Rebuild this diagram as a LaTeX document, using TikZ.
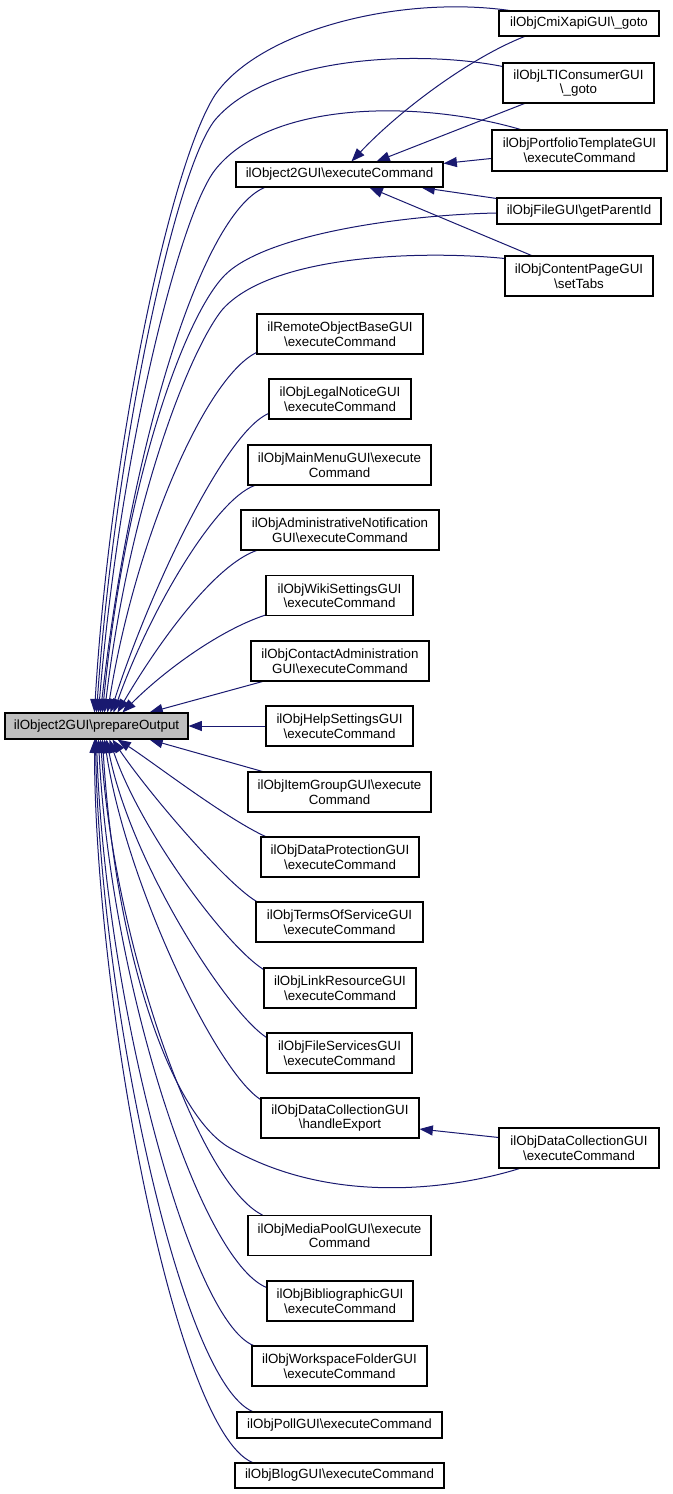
\documentclass[tikz,border=0pt]{standalone}
\usepackage{fontspec}
\setmainfont{Liberation Sans}
\usetikzlibrary{arrows.meta,calc}
\pgfdeclarelayer{background}
\pgfsetlayers{background,main}
\definecolor{edgeblue}{HTML}{191970}
\definecolor{nodegray}{HTML}{BFBFBF}
\begin{document}
\begin{tikzpicture}[x=0.75bp,y=-0.75bp,
  every node/.style={font=\fontsize{10bp}{10.9bp}\selectfont},
  box/.style 2 args={draw=black, line width=0.8bp, fill=white, inner sep=0pt, align=center, minimum width=#1*0.75bp, minimum height=#2*0.75bp},
  mainbox/.style={fill=nodegray},
  edge/.style={draw=edgeblue, line width=0.75bp, -{Triangle[length=10bp,width=7.5bp]}},
]
\useasboundingbox (0,0) rectangle (672,1494);
% nodes
\node[box={183}{26},mainbox] (P) at (96.5,726) {ilObject2GUI\textbackslash prepareOutput};
\node[box={207}{25}] (E) at (339.5,174.5) {ilObject2GUI\textbackslash executeCommand};
\node[box={160}{25}] (Cmi) at (579,23.5) {ilObjCmiXapiGUI\textbackslash\_goto};
\node[box={151}{40}] (LTI) at (578.5,83) {ilObjLTIConsumerGUI\\\textbackslash\_goto};
\node[box={175}{41}] (Port) at (579.5,150.5) {ilObjPortfolioTemplateGUI\\\textbackslash executeCommand};
\node[box={164}{26}] (FileGUI) at (579,211) {ilObjFileGUI\textbackslash getParentId};
\node[box={148}{40}] (Content) at (579,276) {ilObjContentPageGUI\\\textbackslash setTabs};
\node[box={166}{40}] (Remote) at (340,334) {ilRemoteObjectBaseGUI\\\textbackslash executeCommand};
\node[box={142}{40}] (Legal) at (340,399) {ilObjLegalNoticeGUI\\\textbackslash executeCommand};
\node[box={183}{40}] (MainMenu) at (339.5,465) {ilObjMainMenuGUI\textbackslash execute\\Command};
\node[box={198}{40}] (Admin) at (340,530) {ilObjAdministrativeNotification\\GUI\textbackslash executeCommand};
\node[box={147}{40}] (Wiki) at (339.5,595.5) {ilObjWikiSettingsGUI\\\textbackslash executeCommand};
\node[box={178}{40}] (Contact) at (340,661) {ilObjContactAdministration\\GUI\textbackslash executeCommand};
\node[box={147}{40}] (Help) at (339.5,726) {ilObjHelpSettingsGUI\\\textbackslash executeCommand};
\node[box={183}{40}] (ItemGroup) at (339.5,792) {ilObjItemGroupGUI\textbackslash execute\\Command};
\node[box={158}{40}] (DataProt) at (340,857) {ilObjDataProtectionGUI\\\textbackslash executeCommand};
\node[box={167}{40}] (Terms) at (339.5,922) {ilObjTermsOfServiceGUI\\\textbackslash executeCommand};
\node[box={152}{40}] (Link) at (340,988) {ilObjLinkResourceGUI\\\textbackslash executeCommand};
\node[box={145}{40}] (FileServices) at (339.5,1053) {ilObjFileServicesGUI\\\textbackslash executeCommand};
\node[box={158}{40}] (HExp) at (340,1118) {ilObjDataCollectionGUI\\\textbackslash handleExport};
\node[box={160}{40}] (DCexec) at (579,1148) {ilObjDataCollectionGUI\\\textbackslash executeCommand};
\node[box={183}{40}] (MediaPool) at (339.5,1235.5) {ilObjMediaPoolGUI\textbackslash execute\\Command};
\node[box={146}{40}] (Biblio) at (340,1301) {ilObjBibliographicGUI\\\textbackslash executeCommand};
\node[box={175}{40}] (Workspace) at (339.5,1366) {ilObjWorkspaceFolderGUI\\\textbackslash executeCommand};
\node[box={205}{26}] (Poll) at (339.5,1425) {ilObjPollGUI\textbackslash executeCommand};
\node[box={209}{25}] (Blog) at (339.5,1475.5) {ilObjBlogGUI\textbackslash executeCommand};
% edges
\begin{pgfonlayer}{background}
\fill[white] (0,0) rectangle (672,1494);
% to P, upper side
\draw[edge] ($(Cmi.north west)+(11,0)$) .. controls (400,-5) and (260,30) .. (215,95) .. controls (170,165) and (110,450) .. ($(P.north west)+(90,0)$);
\draw[edge] ($(LTI.north west)+(0,4)$) .. controls (420,50) and (270,55) .. (215,120) .. controls (175,170) and (115,450) .. ($(P.north west)+(92,0)$);
\draw[edge] ($(Port.north west)+(29,0)$) .. controls (420,100) and (270,100) .. (215,170) .. controls (180,215) and (120,450) .. ($(P.north west)+(94,0)$);
\draw[edge] ($(E.south west)+(29,0)$) .. controls (200,215) and (130,450) .. ($(P.north west)+(96,0)$);
\draw[edge] ($(FileGUI.west)+(0,2)$) .. controls (400,215) and (265,235) .. (225,275) .. controls (185,315) and (125,480) .. ($(P.north west)+(98,0)$);
\draw[edge] ($(Content.north west)+(0,3)$) .. controls (420,250) and (270,255) .. (222,310) .. controls (190,350) and (130,500) .. ($(P.north west)+(100,0)$);
\draw[edge] ($(Remote.south west)+(0,-2)$) .. controls (205,378) and (135,540) .. ($(P.north west)+(103,0)$);
\draw[edge] ($(Legal.south west)+(0,-6)$) .. controls (225,432) and (150,590) .. ($(P.north west)+(106,0)$);
\draw[edge] ($(MainMenu.south west)+(7,0)$) .. controls (215,500) and (150,610) .. ($(P.north west)+(109,0)$);
\draw[edge] ($(Admin.south west)+(16,0)$) .. controls (215,565) and (160,640) .. ($(P.north west)+(113,0)$);
\draw[edge] ($(Wiki.south west)+(0,-1)$) .. controls (220,630) and (165,670) .. ($(P.north west)+(118,0)$);
\draw[edge] ($(Contact.south west)+(12,0)$) -- ($(P.north west)+(145,0)$);
\draw[edge] (Help.west) -- (P.east);
% to P, lower side
\draw[edge] ($(ItemGroup.north west)+(15,0)$) -- ($(P.south west)+(145,0)$);
\draw[edge] ($(DataProt.north west)+(5,0)$) .. controls (225,818) and (150,760) .. ($(P.south west)+(113,0)$);
\draw[edge] ($(Terms.north west)+(3,1)$) .. controls (230,888) and (150,795) .. ($(P.south west)+(108,0)$);
\draw[edge] ($(Link.north west)+(0,2)$) .. controls (225,945) and (140,830) .. ($(P.south west)+(105,0)$);
\draw[edge] ($(FileServices.north west)+(0,5)$) .. controls (225,1010) and (130,860) .. ($(P.south west)+(102,0)$);
\draw[edge] ($(HExp.north west)+(0,2)$) .. controls (215,1070) and (125,880) .. ($(P.south west)+(100,0)$);
\draw[edge] ($(DCexec.south west)+(21,0)$) .. controls (450,1190) and (330,1205) .. (230,1148) .. controls (170,1114) and (115,950) .. ($(P.south west)+(98,0)$);
\draw[edge] ($(MediaPool.north west)+(15,0)$) .. controls (200,1185) and (115,950) .. ($(P.south west)+(96,0)$);
\draw[edge] ($(Biblio.north west)+(0,7)$) .. controls (200,1260) and (110,980) .. ($(P.south west)+(94,0)$);
\draw[edge] ($(Workspace.north west)+(2,0)$) .. controls (190,1320) and (105,1000) .. ($(P.south west)+(92,0)$);
\draw[edge] ($(Poll.north west)+(16,0)$) .. controls (180,1380) and (100,1000) .. ($(P.south west)+(91,0)$);
\draw[edge] ($(Blog.north west)+(18,0)$) .. controls (175,1430) and (95,1000) .. ($(P.south west)+(90,0)$);
% to E
\draw[edge] ($(Cmi.south west)+(26,0)$) .. controls (470,58) and (400,110) .. ($(E.north west)+(116,0)$);
\draw[edge] ($(LTI.south west)+(22,0)$) -- ($(E.north west)+(141,0)$);
\draw[edge] ($(Port.north west)+(0,29)$) -- ($(E.north east)+(0,2)$);
\draw[edge] ($(FileGUI.north west)+(0,1)$) -- ($(E.south west)+(186,0)$);
\draw[edge] ($(Content.north west)+(27,0)$) -- ($(E.south west)+(134,0)$);
% to handleExport
\draw[edge] ($(DCexec.north west)+(0,10)$) -- ($(HExp.east)+(0,11)$);
\end{pgfonlayer}
\end{tikzpicture}
\end{document}
